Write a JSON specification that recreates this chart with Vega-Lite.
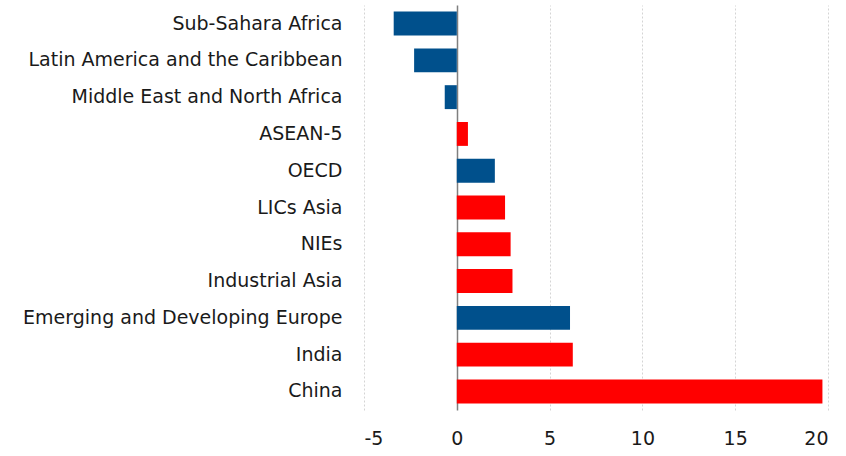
{
  "$schema": "https://vega.github.io/schema/vega-lite/v6.json",
  "width": 464,
  "height": 405,
  "autosize": {"type": "none"},
  "padding": {"left": 364, "top": 5, "right": 18, "bottom": 46},
  "background": "white",
  "config": {"view": {"stroke": null}, "font": "DejaVu Sans"},
  "data": {
    "values": [
      {"region": "Sub-Sahara Africa", "value": -3.4, "group": "other"},
      {"region": "Latin America and the Caribbean", "value": -2.3, "group": "other"},
      {"region": "Middle East and North Africa", "value": -0.65, "group": "other"},
      {"region": "ASEAN-5", "value": 0.6, "group": "asia"},
      {"region": "OECD", "value": 2.05, "group": "other"},
      {"region": "LICs Asia", "value": 2.6, "group": "asia"},
      {"region": "NIEs", "value": 2.9, "group": "asia"},
      {"region": "Industrial Asia", "value": 3.0, "group": "asia"},
      {"region": "Emerging and Developing Europe", "value": 6.1, "group": "other"},
      {"region": "India", "value": 6.25, "group": "asia"},
      {"region": "China", "value": 19.7, "group": "asia"}
    ]
  },
  "mark": {"type": "bar"},
  "encoding": {
    "y": {
      "field": "region",
      "type": "nominal",
      "sort": null,
      "scale": {"paddingInner": 0.35, "paddingOuter": 0.18},
      "axis": {
        "title": null,
        "domain": false,
        "ticks": false,
        "labelPadding": 22,
        "labelFontSize": 19,
        "labelColor": "#1a1a1a",
        "labelLimit": 400
      }
    },
    "x": {
      "field": "value",
      "type": "quantitative",
      "scale": {"domain": [-5, 20], "nice": false, "zero": false},
      "axis": {
        "title": null,
        "values": [-5, 0, 5, 10, 15, 20],
        "labelExpr": "datum.value < 0 ? '-' + abs(datum.value) : datum.label",
        "domain": false,
        "ticks": false,
        "labelPadding": 19,
        "labelFontSize": 19,
        "labelColor": "#1a1a1a",
        "grid": true,
        "gridColor": {"condition": {"test": "datum.value === 0", "value": "#7f7f7f"}, "value": "#d4d4d4"},
        "gridDash": {"condition": {"test": "datum.value === 0", "value": []}, "value": [2, 2]},
        "gridWidth": {"condition": {"test": "datum.value === 0", "value": 1.5}, "value": 1}
      }
    },
    "color": {
      "field": "group",
      "type": "nominal",
      "scale": {"domain": ["other", "asia"], "range": ["#00508c", "#ff0000"]},
      "legend": null
    }
  }
}
